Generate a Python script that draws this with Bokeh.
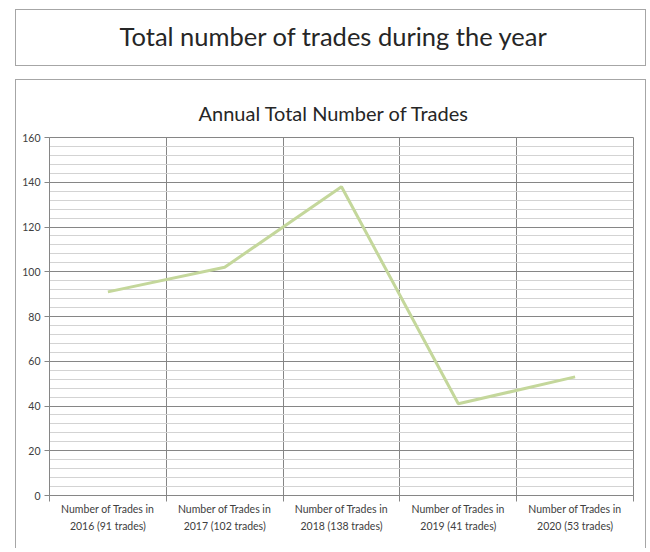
from bokeh.plotting import figure
from bokeh.models import Range1d, FixedTicker, Label
from bokeh.layouts import column
from bokeh.embed import file_html
from bokeh.resources import INLINE

# ---- data ----
years = ["2016", "2017", "2018", "2019", "2020"]
trades = [91, 102, 138, 41, 53]
y_ticks = [0, 20, 40, 60, 80, 100, 120, 140, 160]
header_text = "Total number of trades during the year"
chart_title = "Annual Total Number of Trades"

labels = [f"Number of Trades in\n{y} ({n} trades)" for y, n in zip(years, trades)]
x_pos = list(range(len(years)))
bounds = [i - 0.5 for i in range(len(years) + 1)]

TITLE_FONT = "Lato"
LABEL_FONT = "Lato"
BOX = "#a6a6a6"
GRID = "#868686"
BORDER = f"1px solid {BOX}"

# ---- header box ----
header = figure(width=631, height=57, output_backend="svg", toolbar_location=None,
                x_axis_type=None, y_axis_type=None,
                x_range=Range1d(0, 1), y_range=Range1d(0, 1),
                min_border_left=33, min_border_right=14, min_border_top=0, min_border_bottom=0,
                margin=(9, 0, 0, 15),
                styles={"border": BORDER})
header.grid.visible = False
header.outline_line_color = None
header.add_layout(Label(x=0.5, y=0.5, x_offset=-7.5, y_offset=3.5, text=header_text,
                        text_align="center", text_baseline="middle", text_font=TITLE_FONT,
                        text_font_size="25.5px", text_color="#262626"))

# ---- chart ----
p = figure(width=631, height=469, output_backend="svg", toolbar_location=None,
           x_range=Range1d(bounds[0], bounds[-1]), y_range=Range1d(0, 160),
           min_border_left=33, min_border_right=14, min_border_top=57, min_border_bottom=54,
           margin=(13, 0, 0, 15),
           styles={"border-top": BORDER, "border-left": BORDER, "border-right": BORDER})
p.title.text = chart_title
p.title.align = "left"
p.title.offset = 149
p.title.text_font = TITLE_FONT
p.title.text_font_size = "20px"
p.title.text_font_style = "normal"
p.title.text_color = "#262626"
p.title.standoff = 26

p.line(x_pos, trades, line_color="#c4d79b", line_width=3)

yt = FixedTicker(ticks=y_ticks, minor_ticks=list(range(0, 161, 4)))
p.yaxis.ticker = yt
p.ygrid.ticker = yt
p.ygrid.grid_line_color = GRID
p.ygrid.minor_grid_line_color = "#d3d3d3"
p.yaxis.axis_line_color = GRID
p.yaxis.major_tick_line_color = GRID
p.yaxis.major_tick_in = 0
p.yaxis.major_tick_out = 5
p.yaxis.minor_tick_line_color = None
p.yaxis.major_label_standoff = 4
p.yaxis.major_label_text_font = LABEL_FONT
p.yaxis.major_label_text_font_size = "10.5px"
p.yaxis.major_label_text_color = "#404040"

xt = FixedTicker(ticks=x_pos, minor_ticks=bounds)
p.xaxis.ticker = xt
p.xaxis.major_label_overrides = {i: lab for i, lab in zip(x_pos, labels)}
p.xaxis.major_tick_line_color = None
p.xaxis.major_tick_in = 0
p.xaxis.major_tick_out = 0
p.xaxis.minor_tick_line_color = GRID
p.xaxis.minor_tick_in = 0
p.xaxis.minor_tick_out = 6
p.xaxis.axis_line_color = GRID
p.xaxis.major_label_text_font = LABEL_FONT
p.xaxis.major_label_text_font_size = "10.5px"
p.xaxis.major_label_text_line_height = 1.45
p.xaxis.major_label_text_color = "#404040"
p.xaxis.major_label_standoff = 1
p.xgrid.ticker = FixedTicker(ticks=bounds[1:-1])
p.xgrid.grid_line_color = GRID
p.outline_line_color = GRID

layout = column(header, p, spacing=0)
open("out.html", "w").write(file_html(layout, INLINE))
